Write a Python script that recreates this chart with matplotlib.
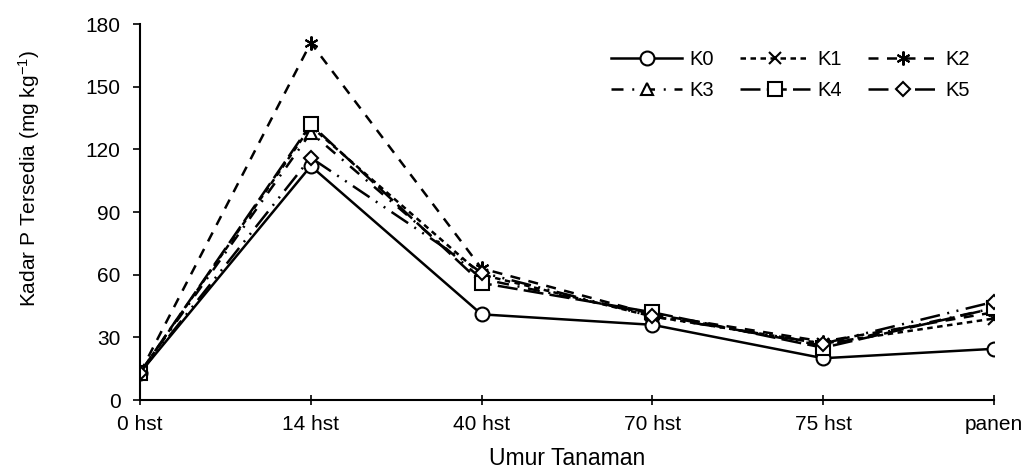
import matplotlib
matplotlib.use("Agg")
import matplotlib.pyplot as plt

plt.rcParams['font.family'] = ['Liberation Sans', 'DejaVu Sans']
plt.rcParams['mathtext.default'] = 'regular'

categories = ["0 hst", "14 hst", "40 hst", "70 hst", "75 hst", "panen"]
K0 = [13, 112, 41, 36, 20, 24.5]
K1 = [13, 131, 60, 40, 27, 39]
K2 = [13, 171, 63, 41, 28, 42]
K3 = [13, 128, 58, 41, 26, 44]
K4 = [13, 132, 56, 42, 25, 44]
K5 = [13, 116, 61, 40, 27, 47]

series = [
    ("K0", K0, dict(linestyle='-', marker='o', markersize=10)),
    ("K1", K1, dict(linestyle=(0, (2.2, 1.8)), marker='x', markersize=9)),
    ("K2", K2, dict(linestyle=(0, (4.0, 3.4)), marker=(6, 2, 0), markersize=10)),
    ("K3", K3, dict(linestyle=(0, (4.8, 3.5, 0.8, 3.5)), marker='^', markersize=9)),
    ("K4", K4, dict(linestyle=(0, (8, 2.5)), marker='s', markersize=10)),
    ("K5", K5, dict(linestyle=(0, (8, 3, 0.8, 3, 0.8, 3)), marker='D', markersize=7)),
]

fig = plt.figure(figsize=(10.25, 4.72), dpi=100)
ax = fig.add_axes([140/1025, 1-400/472, (994-140)/1025, (400-24)/472])

x = list(range(len(categories)))
handles = {}
for name, vals, st in series:
    h, = ax.plot(x, vals, color='black', linewidth=1.8,
                 markerfacecolor='white', markeredgecolor='black',
                 markeredgewidth=1.5, label=name, **st)
    handles[name] = h

ax.set_xlim(0, 5)
ax.set_ylim(0, 180)
ax.set_yticks(range(0, 181, 30))
ax.set_xticks(x)
ax.set_xticklabels(categories)
ax.tick_params(axis='y', direction='out', length=5, width=1.2, labelsize=15, pad=9)
ax.tick_params(axis='x', direction='inout', length=7, width=1.2, labelsize=15, pad=7)
for s in ['top', 'right']:
    ax.spines[s].set_visible(False)
for s in ['left', 'bottom']:
    ax.spines[s].set_linewidth(1.5)

ax.set_xlabel("Umur Tanaman", fontsize=16.5)
ax.xaxis.set_label_coords(0.5, -0.125)
ax.set_ylabel("Kadar P Tersedia (mg kg$^{-1}$)", fontsize=15)
ax.yaxis.set_label_coords(-0.115, 0.588)

order = ["K0", "K3", "K1", "K4", "K2", "K5"]
ax.legend([handles[n] for n in order], order, ncol=3, frameon=False,
          loc='upper right', bbox_to_anchor=(0.972, 0.932), borderaxespad=0,
          borderpad=0, fontsize=14.5, handlelength=3.5, handletextpad=0.35,
          columnspacing=1.3, labelspacing=0.6)

fig.savefig("out.png", dpi=100)
